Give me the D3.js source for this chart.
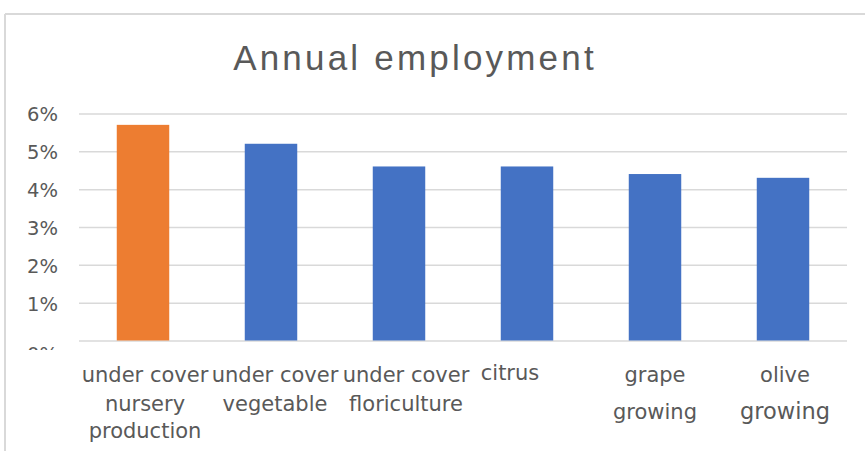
<html>
<head>
  <title>Annual employment</title>
  <meta charset=utf-8>
  <script src="https://d3js.org/d3.v7.min.js"></script>
  <style>
    body { margin: 0; background: #fff; overflow: hidden; }
  </style>
</head>
<body>
  <svg id="chart" width="865" height="451"></svg>
<script>
  // DATA
  var categories = [
    ["under cover", "nursery", "production"],
    ["under cover", "vegetable"],
    ["under cover", "floriculture"],
    ["citrus"],
    ["grape", "growing"],
    ["olive", "growing"]
  ];
  var values = [0.057, 0.052, 0.046, 0.046, 0.044, 0.043];
  var yTicks = [0, 0.01, 0.02, 0.03, 0.04, 0.05, 0.06];
  var highlight = 0; // first bar is orange

  var W = 865, H = 451;
  var plot = {left: 79, right: 847, top: 113.5, bottom: 340.5};
  var grey = "#595959";

  var svg = d3.select("#chart");

  // chart frame (top + left edge visible)
  svg.append("line")
    .attr("x1", 5).attr("x2", W).attr("y1", 14).attr("y2", 14)
    .style("stroke", "#d9d9d9").style("stroke-width", 2);
  svg.append("line")
    .attr("x1", 5).attr("x2", 5).attr("y1", 14).attr("y2", H)
    .style("stroke", "#d9d9d9").style("stroke-width", 2);

  // title
  svg.append("text")
    .attr("x", 415).attr("y", 70)
    .attr("text-anchor", "middle")
    .style("font-family", "'Liberation Sans', Arial, sans-serif")
    .style("font-size", "35px")
    .style("letter-spacing", "3.2px")
    .style("fill", grey)
    .text("Annual employment");

  // scales
  var x = d3.scaleBand()
    .domain(d3.range(categories.length))
    .range([plot.left, plot.right])
    .paddingInner(0.59)
    .paddingOuter(0.295);
  var y = d3.scaleLinear()
    .domain([0, 0.06])
    .range([plot.bottom, plot.top]);

  // clip for the y labels (the 0% label is cut off in the original)
  svg.append("clipPath").attr("id", "yclip")
    .append("rect").attr("x", 0).attr("y", 0).attr("width", plot.left).attr("height", 350);

  // gridlines
  svg.append("g")
    .attr("transform", "translate(" + plot.left + ",0)")
    .call(d3.axisLeft(y).tickValues(yTicks).tickSize(-(plot.right - plot.left)).tickFormat(""))
    .call(function(g) { g.select(".domain").remove(); })
    .selectAll("line")
    .style("stroke", "#d9d9d9").style("stroke-width", 1.5);

  // y labels
  var yAxis = svg.append("g")
    .attr("clip-path", "url(#yclip)")
    .append("g")
    .attr("transform", "translate(58,0)")
    .call(d3.axisLeft(y).tickValues(yTicks).tickSize(0).tickPadding(0).tickFormat(d3.format(".0%")));
  yAxis.select(".domain").remove();
  yAxis.selectAll("text")
    .style("font-family", "'DejaVu Sans', sans-serif")
    .style("font-size", "19.5px")
    .style("fill", grey)
    .attr("dy", function(d) { return d === 0 ? "1.05em" : "0.38em"; });

  // bars
  svg.selectAll(".bar")
    .data(values)
    .enter().append("rect")
    .attr("class", "bar")
    .attr("x", function(d, i) { return x(i); })
    .attr("width", x.bandwidth())
    .attr("y", function(d) { return y(d); })
    .attr("height", function(d) { return y(0) - y(d); })
    .style("fill", function(d, i) { return i === highlight ? "#ED7D31" : "#4472C4"; });

  // category labels (multi-line, as wrapped in the original)
  var labelShift = [2, 4, 7, -17, 0, 2];
  var lineY = [[382, 411, 438], [382, 411], [382, 411], [380], [382, 419], [382, 419]];
  var cat = svg.selectAll(".cat")
    .data(categories)
    .enter().append("g")
    .attr("class", "cat")
    .attr("transform", function(d, i) { return "translate(" + (x(i) + x.bandwidth() / 2 + labelShift[i]) + ",0)"; });
  cat.each(function(lines, i) {
    d3.select(this).selectAll("text")
      .data(lines)
      .enter().append("text")
      .attr("y", function(d, j) { return lineY[i][j]; })
      .attr("text-anchor", "middle")
      .style("font-family", "'DejaVu Sans', sans-serif")
      .style("font-size", function(d, j) { return (i === 5 && j === 1) ? "22.5px" : "21px"; })
      .style("fill", grey)
      .text(function(d) { return d; });
  });
</script>
</body>
</html>
